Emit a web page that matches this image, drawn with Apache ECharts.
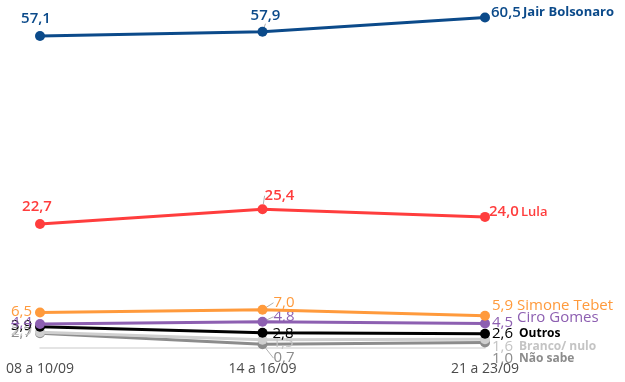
<!DOCTYPE html>
<html><head><meta charset="utf-8">
<script src="https://cdn.jsdelivr.net/npm/echarts@6/dist/echarts.min.js"></script>
<style>html,body{margin:0;padding:0;background:#fff}#c{width:625px;height:382px}</style>
</head><body><div id="c"></div>
<script>
const categories = ['08 a 10/09', '14 a 16/09', '21 a 23/09'];
const bolsonaro = [57.1, 57.9, 60.5];
const lula = [22.7, 25.4, 24.0];
const tebet = [6.5, 7.0, 5.9];
const ciro = [4.4, 4.8, 4.5];
const outros = [3.9, 2.8, 2.6];
const branco = [2.9, 1.5, 1.6];
const naoSabe = [2.7, 0.7, 1.0];
const names = ['Jair Bolsonaro', 'Lula', 'Simone Tebet', 'Ciro Gomes', 'Outros', 'Branco/ nulo', 'Não sabe'];

const FONT = '"Open Sans", "Noto Sans", sans-serif';
// style/layout config per series (kept apart from data)
// labels: [position, dx, dy]; guide: show a leader line for the middle label
const styles = [
  {data: bolsonaro, color: '#0b4a8a', text: '#0b4a8a', vw: 600, w: 32, guide: true, nameStyle: {fontSize: 13, fontWeight: 'bold'},
   labels: [['top', -4, 0], ['top', 3, 2], ['right', -4, -5]]},
  {data: lula, color: '#ff3d3d', text: '#ff3d3d', vw: 600, w: 32, guide: true, nameStyle: {fontSize: 13, fontWeight: 600},
   labels: [['top', -3, 0], ['top', 17, 4], ['right', -6, -5]]},
  {data: tebet, color: '#ff9a3c', text: '#ff9a3c', vw: 'normal', w: 25, guide: true, nameStyle: {fontSize: 15, fontWeight: 'normal'},
   labels: [['left', 2, -1], ['right', 1, -7], ['right', -3, -10]]},
  {data: ciro, color: '#8d5fb1', text: '#8d5fb1', vw: 'normal', w: 25, guide: true, nameStyle: {fontSize: 15, fontWeight: 'normal', padding: [0, 0, 10, 0]},
   labels: [['left', 2, -1], ['right', 1, -5], ['right', -3, -1]]},
  {data: outros, color: '#000000', text: '#000000', vw: 'normal', w: 27, guide: false, nameStyle: {fontSize: 12, fontWeight: 'bold'},
   labels: [['left', 2, -1], ['right', 0, 1], ['right', -3, 0]]},
  {data: branco, color: '#cfcfcf', text: '#c4c4c4', vw: 'normal', w: 27, guide: false, nameStyle: {fontSize: 12, fontWeight: 'bold'},
   labels: [['left', 2, -1], ['right', 0, 3], ['right', -3, 7]]},
  {data: naoSabe, color: '#8c8c8c', text: '#8c8c8c', vw: 'normal', w: 27, guide: true, nameStyle: {fontSize: 12, fontWeight: 'bold'},
   labels: [['left', 2, -1], ['right', 1, 14], ['right', -3, 16]]}
];

const fmt = v => v.toFixed(1).replace('.', ',');

const series = styles.map((s, si) => ({
  name: names[si],
  type: 'line',
  z: 10 - si,
  data: s.data.map((v, i) => ({
    value: v,
    label: {
      position: s.labels[i][0],
      formatter: i === 2 ? '{v|' + fmt(v) + '}{n|' + names[si] + '}' : '{a|' + fmt(v) + '}'
    },
    labelLine: {show: i === 1 && s.guide}
  })),
  symbol: 'circle',
  symbolSize: 10,
  lineStyle: {color: s.color, width: 3},
  itemStyle: {color: s.color},
  label: {
    show: true,
    distance: 5,
    rich: {
      a: {fontFamily: FONT, fontSize: 15, fontWeight: s.vw, color: s.text},
      v: {fontFamily: FONT, fontSize: 15, fontWeight: s.vw, color: s.text, width: s.w},
      n: Object.assign({fontFamily: FONT, color: s.text}, s.nameStyle)
    }
  },
  labelLine: {lineStyle: {color: '#b0b0b0', width: 1}},
  labelLayout: function (p) {
    const l = s.labels[p.dataIndex];
    return {dx: l[1], dy: l[2]};
  },
  emphasis: {disabled: true},
  animation: false
}));

const chart = echarts.init(document.getElementById('c'));
chart.setOption({
  animation: false,
  grid: {left: 40, right: 140, top: 0, bottom: 34},
  xAxis: {
    type: 'category',
    data: categories,
    boundaryGap: false,
    axisLine: {lineStyle: {color: '#dcdcdc', width: 1.5}},
    axisTick: {show: false},
    axisLabel: {color: '#4a4a4a', fontSize: 14, fontFamily: FONT, margin: 14}
  },
  yAxis: {type: 'value', min: 0, max: 63.7, show: false, splitLine: {show: false}},
  series: series
});
</script></body></html>
